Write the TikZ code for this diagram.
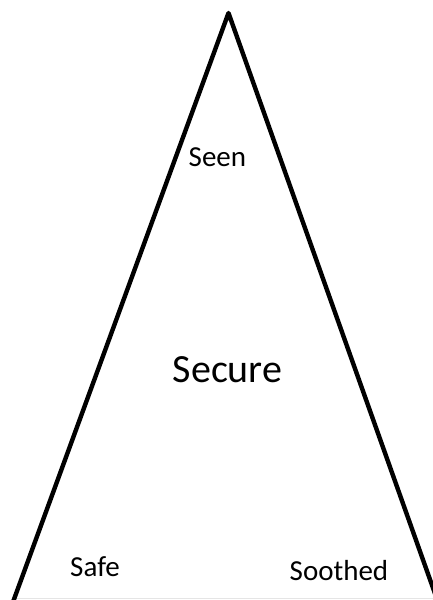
\documentclass[tikz,border=0pt]{standalone}
\usepackage{fontspec}
\setmainfont{Carlito}
\begin{document}
\begin{tikzpicture}[x=1pt,y=-1pt,
  edge/.style={line width=4.4pt,line join=round,black},
  small/.style={font=\fontsize{29}{34}\selectfont,inner sep=0pt,anchor=base},
  big/.style={font=\fontsize{40}{46}\selectfont,inner sep=0pt,anchor=base}]
\useasboundingbox (0,0) rectangle (433,600);
\coordinate (apex) at (228.5,13);
\coordinate (bl) at (13,602);
\coordinate (br) at (438,602);
\coordinate (fl) at (14,598.5);
\coordinate (fr) at (433,598.5);
\begin{scope}
\clip (0,0) rectangle (433,600);
\draw[black!10,line width=1.5pt] (fl) -- (fr);
\draw[edge] (bl) -- (apex) -- (br);
\end{scope}
\node[small] (seen) at (217.4,166) {Seen};
\node[big] (secure) at (227.5,382) {Secure};
\node[small] (safe) at (95,576) {Safe};
\node[small] (soothed) at (339,580) {Soothed};
\end{tikzpicture}
\end{document}
